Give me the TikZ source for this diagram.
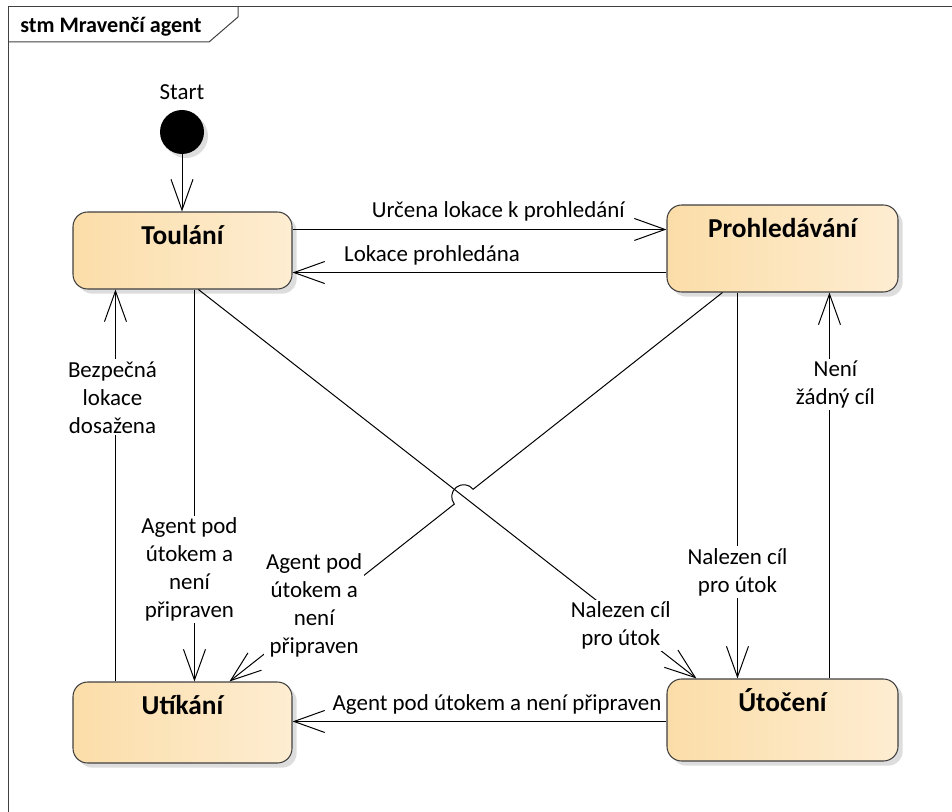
\documentclass[tikz,border=0pt]{standalone}
\usepackage{fontspec}
\setmainfont{Carlito}
\usetikzlibrary{arrows.meta,calc,shadows}

\definecolor{stateleft}{RGB}{251,221,168}
\definecolor{stateright}{RGB}{254,237,210}
\definecolor{stateline}{RGB}{64,64,64}

\begin{document}
\begin{tikzpicture}[x=0.75pt,y=-0.75pt,
	state/.style={draw=stateline, line width=0.8pt, rounded corners=11pt, left color=stateleft, right color=stateright,
		drop shadow={shadow xshift=3.5pt, shadow yshift=-3.5pt, fill=black!60, opacity=0.22}, inner sep=0pt},
	sname/.style={anchor=base, yshift=-25pt, font=\fontsize{20.5}{24}\selectfont\bfseries},
	trans/.style={draw, line width=0.75pt, -{Straight Barb[length=23pt,width=16.5pt]}},
	lbl/.style={font=\fontsize{17.2}{21}\selectfont, align=center, inner sep=1.5pt},
	lblw/.style={lbl, fill=white}]
\useasboundingbox (0,0) rectangle (952,812);

\draw[black!75, line width=0.75pt] (8,812) -- (8,7) -- (952,7);
\draw[black!75, line width=0.75pt] (8,42) -- (209,42) -- (238,17) -- (238,7);
\node[anchor=west, inner sep=0pt, font=\fontsize{16.6}{19}\selectfont\bfseries] (title) at (20,27) {stm Mravenčí agent};

\node[circle, fill=black, minimum size=33pt, inner sep=0pt,
	drop shadow={shadow xshift=3pt, shadow yshift=-3pt, fill=black!60, opacity=0.22},
	label={[lbl, yshift=6pt]above:Start}] (start) at (182,132) {};

\node[state, minimum width=164.25pt, minimum height=57.75pt, label={[sname]north:Toulání}] (tou) at (182.5,250.5) {};
\node[state, minimum width=173.25pt, minimum height=65.25pt, label={[sname]north:Prohledávání}] (prh) at (782.5,248.5) {};
\node[state, minimum width=173.25pt, minimum height=61.5pt, label={[sname]north:Útočení}] (uto) at (782.5,720) {};
\node[state, minimum width=164.25pt, minimum height=60.75pt, label={[sname]north:Utíkání}] (utk) at (182.5,722.5) {};

\coordinate (a1) at ($(tou.north east)+(0,18)$);
\coordinate (a2) at ($(prh.south west)+(0,-20)$);
\coordinate (a3) at ($(utk.north west)+(43,0)$);
\coordinate (a4) at ($(tou.south west)+(122,0)$);
\coordinate (a5) at ($(tou.south west)+(126,0)$);
\coordinate (b5) at ($(uto.north west)+(30,0)$);
\coordinate (a6) at ($(prh.south west)+(56,0)$);
\coordinate (b6) at ($(utk.north west)+(157,0)$);
\coordinate (a7) at ($(prh.south west)+(71,0)$);
\coordinate (a8) at ($(uto.north west)+(163,0)$);
\coordinate (a9) at ($(uto.north west)+(0,43)$);
\coordinate (hop) at (intersection of a5--b5 and a6--b6);

\draw[trans] (start) -- (start |- tou.north);
\draw[trans] (a1) -- node[lbl, pos=.55, yshift=13.5pt] {Určena lokace k prohledání} (a1 -| prh.west);
\draw[trans] (a2) -- node[lbl, pos=.627, yshift=12.75pt] {Lokace prohledána} (a2 -| tou.east);
\draw[trans] (a3) -- node[lblw, pos=.725, xshift=-2.25pt] {Bezpečná\\lokace\\dosažena} (a3 |- tou.south);
\draw[trans] (a4) -- node[lblw, pos=.714, xshift=-3.75pt] {Agent pod\\útokem a\\není\\připraven} (a4 |- utk.north);
\draw[trans] (a5) -- node[lblw, pos=.864, xshift=-6pt] {Nalezen cíl\\pro útok} (b5);
\draw[trans] (a6) -- ($(hop)!9pt!(a6)$) let \p1=($(a6)-(hop)$) in
	arc[start angle={atan2(\y1,\x1)}, delta angle=180, radius=9pt]
	-- node[lblw, pos=.57, xshift=-9pt] {Agent pod\\útokem a\\není\\připraven} (b6);
\draw[trans] (a7) -- node[lblw, pos=.724] {Nalezen cíl\\pro útok} (a7 |- uto.north);
\draw[trans] (a8) -- node[lblw, pos=.762, xshift=4.5pt] {Není\\žádný cíl} (a8 |- prh.south);
\draw[trans] (a9) -- node[lbl, pos=.453, yshift=12.75pt] {Agent pod útokem a není připraven} (a9 -| utk.east);
\end{tikzpicture}
\end{document}
